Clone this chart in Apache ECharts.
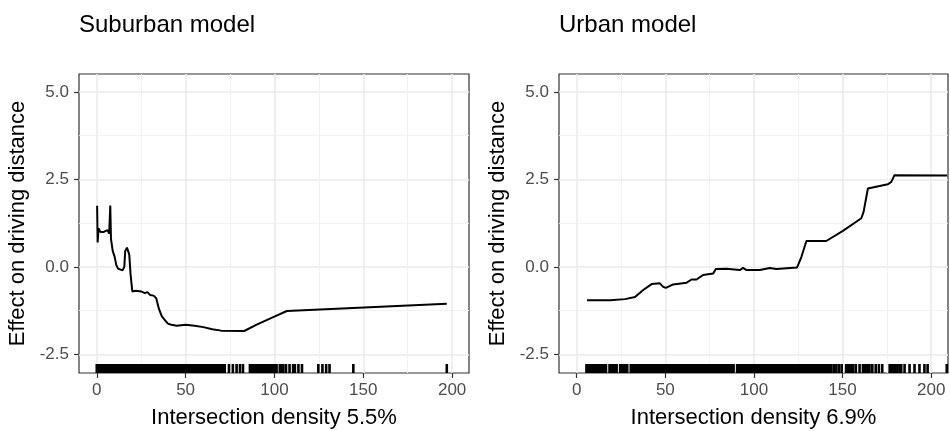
<!DOCTYPE html>
<html>
<head>
<meta charset="utf-8">
<script src="https://cdn.jsdelivr.net/npm/echarts@6/dist/echarts.min.js"></script>
<style>
  html, body { margin: 0; padding: 0; background: #fff; }
  #chart { width: 950px; height: 431px; }
</style>
</head>
<body>
<div id="chart"></div>
<script>
// axis ticks
var xTicks = [0, 50, 100, 150, 200];
var xMinor = [25, 75, 125, 175];
var yTicks = [-2.5, 0, 2.5, 5];
var yMinor = [-1.25, 1.25, 3.75];

// suburban partial dependence line
var suburbanX = [0.2, 0.5, 1, 2, 3, 4, 5, 6, 7, 7.6, 8, 9, 10, 11, 12, 13, 14.5, 15.5, 16, 17, 17.8, 18.3, 19, 20,
    21, 22, 23, 25, 27, 28.5, 30, 31, 32, 33.5, 35, 36.5, 38, 40, 42, 45, 50, 55, 60, 65, 70, 83, 90, 99, 107, 197];
var suburbanY = [1.75, 0.7, 1.1, 1.0, 0.95, 1.0, 0.95, 1.05, 0.95, 1.75, 0.8, 0.45, 0.3, 0.05, -0.05, -0.08, -0.1, 0.0, 0.45, 0.55, 0.6, 0.35, -0.2, -0.7,
    -0.72, -0.68, -0.65, -0.7, -0.75, -0.72, -0.8, -0.76, -0.82, -0.9, -1.2, -1.4, -1.5, -1.62, -1.65, -1.68, -1.65, -1.68, -1.72, -1.78, -1.82, -1.83, -1.65, -1.44, -1.26, -1.05];

// urban partial dependence line
var urbanX = [5.8, 18.8, 27.2, 32.9, 37.5, 42.3, 46.9, 48.8, 50.3, 54.4, 62, 64.8, 67.6, 71.3, 77, 78.5, 84.5, 92, 93.9, 95.8,
    103.3, 108.9, 112.7, 124.3, 126.8, 129.6, 134.3, 135.2, 138.9, 140.8, 150.2, 160.6, 161.9, 164.3, 175.6, 177.5, 179.3, 209];
var urbanY = [-0.95, -0.95, -0.92, -0.86, -0.66, -0.49, -0.47, -0.57, -0.6, -0.5, -0.45, -0.36, -0.36, -0.23, -0.19, -0.06, -0.05, -0.09, -0.03, -0.09,
    -0.09, -0.03, -0.06, -0.02, 0.29, 0.74, 0.74, 0.7, 0.74, 0.74, 1.03, 1.39, 1.58, 2.24, 2.36, 2.43, 2.62, 2.61];

// rug: observed intersection densities
var suburbanRug = [0, 1, 2, 3, 4, 5, 6, 7, 8, 9, 10, 11, 12, 13, 14, 15, 16, 17, 18, 19, 20, 21, 22, 23, 24, 25,
    26, 27, 28, 29, 30, 31, 32, 33, 34, 35, 36, 37, 38, 39, 40, 41, 42, 43, 44, 45, 46, 47, 48, 49, 50,
    51, 52, 53, 54, 55, 56, 57, 58, 59, 60, 61, 62, 63, 64, 65, 66, 67, 68, 69, 70, 71, 72,
    74.4, 76.6, 78.7, 80.6, 82.3, 86.2, 87.2, 88.2, 89.2, 90.2, 91.2, 92.2, 93.2, 94.2, 95.2, 96.2, 97.2, 98.2,
    99.2, 100.2, 101.2, 103, 104, 105, 106.5, 108.5, 110.5, 111.5, 113.5, 115.5, 124.7, 127, 129.1, 131, 144.4, 197];
var urbanRug = [5.5, 6.5, 7.5, 8.5, 9.5, 10.5, 11.5, 12.5, 13.5, 14.5, 15.5, 16.5, 18.5, 19.5, 20.5, 21.5, 22.5,
    24.5, 25.5, 26.5, 27.5, 28.5, 30.5, 31.5, 32.5, 33.5, 34.5, 35.5, 36.5, 37.5, 38.5, 39.5, 40.5, 41.5, 42.5,
    43.5, 44.5, 45.5, 46.5, 47.5, 48.5, 49.5, 50.5, 51.5, 52.5, 53.5, 54.5, 55.5, 56.5, 57.5, 58.5, 59.5, 60.5,
    61.5, 62.5, 63.5, 64.5, 65.5, 66.5, 67.5, 68.5, 69.5, 70.5, 71.5, 72.5, 73.5, 74.5, 75.5, 76.5, 77.5, 78.5,
    79.5, 80.5, 81.5, 82.5, 83.5, 84.5, 85.5, 86.5, 87.5, 88.5, 90.5, 91.5, 92.5, 93.5, 94.5, 95.5, 96.5, 97.5,
    98.5, 99.5, 100.5, 101.5, 102.5, 103.5, 104.5, 105.5, 106.5, 107.5, 108.5, 109.5, 110.5, 111.5, 112.5, 113.5,
    114.5, 115.5, 116.5, 117.5, 118.5, 119.5, 120.5, 121.5, 122.5, 123.5, 124.5, 125.5, 126.5, 127.5, 128.5, 129.5,
    130.5, 131.5, 132.5, 133.5, 134.5, 135.5, 136.5, 137.5, 138.5, 139.5, 140.5, 141.5, 142.5,
    143.6, 145, 146.5, 148, 149.5, 152, 153, 154, 155, 156, 157.5, 159.6, 161.5, 162.5, 163.5, 164.5, 165.2, 166.8,
    168.7, 170.5, 172.4, 176.6, 177.7, 178.8, 179.9, 181, 182.2, 183.1, 185, 187.8, 190.6, 193.4, 196.2, 198, 208.8];

var X_MIN = -10, X_MAX = 209.5;
var Y_MIN = -3.03, Y_MAX = 5.51;

var FONT = 'Liberation Sans, Arial, sans-serif';

function pairs(xs, ys) {
    return xs.map(function (x, i) { return [x, ys[i]]; });
}

function rugData(xs) {
    return xs.map(function (x) { return [x, Y_MIN]; });
}

function mainX(gi) {
    return {
        type: 'value', gridIndex: gi, min: X_MIN, max: X_MAX, position: 'bottom',
        name: gi === 0 ? 'Intersection density 5.5%' : 'Intersection density 6.9%',
        nameLocation: 'middle', nameGap: 34,
        nameTextStyle: { fontSize: 22, color: '#000', fontFamily: FONT },
        axisLine: { show: false, onZero: false },
        axisTick: { show: true, length: 5, customValues: xTicks, lineStyle: { color: '#333', width: 1.2 } },
        axisLabel: { customValues: xTicks, margin: 9, fontSize: 17, color: '#4d4d4d', fontFamily: FONT },
        splitLine: { show: true, lineStyle: { color: '#ebebeb', width: 1.6 } }
    };
}

function minorX(gi) {
    return {
        type: 'value', gridIndex: gi, min: X_MIN, max: X_MAX, position: 'top',
        axisLine: { show: false, onZero: false },
        axisTick: { show: false, customValues: xMinor },
        axisLabel: { show: false },
        splitLine: { show: true, lineStyle: { color: '#f0f0f0', width: 0.9 } }
    };
}

function mainY(gi) {
    return {
        type: 'value', gridIndex: gi, min: Y_MIN, max: Y_MAX, position: 'left',
        name: 'Effect on driving distance',
        nameLocation: 'middle', nameGap: 50,
        nameTextStyle: { fontSize: 22, color: '#000', fontFamily: FONT },
        axisLine: { show: false, onZero: false },
        axisTick: { show: true, length: 5, customValues: yTicks, lineStyle: { color: '#333', width: 1.2 } },
        axisLabel: {
            customValues: yTicks, margin: 10, fontSize: 17, color: '#4d4d4d', fontFamily: FONT,
            formatter: function (v) { return v.toFixed(1); }
        },
        splitLine: { show: true, lineStyle: { color: '#ebebeb', width: 1.6 } }
    };
}

function minorY(gi) {
    return {
        type: 'value', gridIndex: gi, min: Y_MIN, max: Y_MAX, position: 'right',
        axisLine: { show: false, onZero: false },
        axisTick: { show: false, customValues: yMinor },
        axisLabel: { show: false },
        splitLine: { show: true, lineStyle: { color: '#f0f0f0', width: 0.9 } }
    };
}

var option = {
    backgroundColor: '#fff',
    animation: false,
    title: [
        { text: 'Suburban model', left: 79, top: 13, padding: 0, textStyle: { fontSize: 24, fontWeight: 'normal', color: '#000', fontFamily: FONT } },
        { text: 'Urban model', left: 559, top: 13, padding: 0, textStyle: { fontSize: 24, fontWeight: 'normal', color: '#000', fontFamily: FONT } }
    ],
    grid: [
        { left: 79, top: 74, width: 390, height: 299, outerBoundsMode: 'none', show: true, backgroundColor: '#fff', borderColor: '#333', borderWidth: 1.2 },
        { left: 559, top: 74, width: 389, height: 299, outerBoundsMode: 'none', show: true, backgroundColor: '#fff', borderColor: '#333', borderWidth: 1.2 }
    ],
    xAxis: [mainX(0), mainX(1), minorX(0), minorX(1)],
    yAxis: [mainY(0), mainY(1), minorY(0), minorY(1)],
    series: [
        {
            type: 'line', xAxisIndex: 0, yAxisIndex: 0, data: pairs(suburbanX, suburbanY),
            showSymbol: false, lineStyle: { color: '#000', width: 2 }, z: 5
        },
        {
            type: 'line', xAxisIndex: 1, yAxisIndex: 1, data: pairs(urbanX, urbanY),
            showSymbol: false, lineStyle: { color: '#000', width: 2 }, z: 5
        },
        {
            type: 'scatter', xAxisIndex: 0, yAxisIndex: 0, data: rugData(suburbanRug),
            symbol: 'rect', symbolSize: [2.6, 9], symbolOffset: [0, -4.5],
            itemStyle: { color: '#000', opacity: 1 }, silent: true, z: 4
        },
        {
            type: 'scatter', xAxisIndex: 1, yAxisIndex: 1, data: rugData(urbanRug),
            symbol: 'rect', symbolSize: [2.6, 9], symbolOffset: [0, -4.5],
            itemStyle: { color: '#000', opacity: 1 }, silent: true, z: 4
        }
    ]
};

var myChart = echarts.init(document.getElementById('chart'));
myChart.setOption(option);
</script>
</body>
</html>
